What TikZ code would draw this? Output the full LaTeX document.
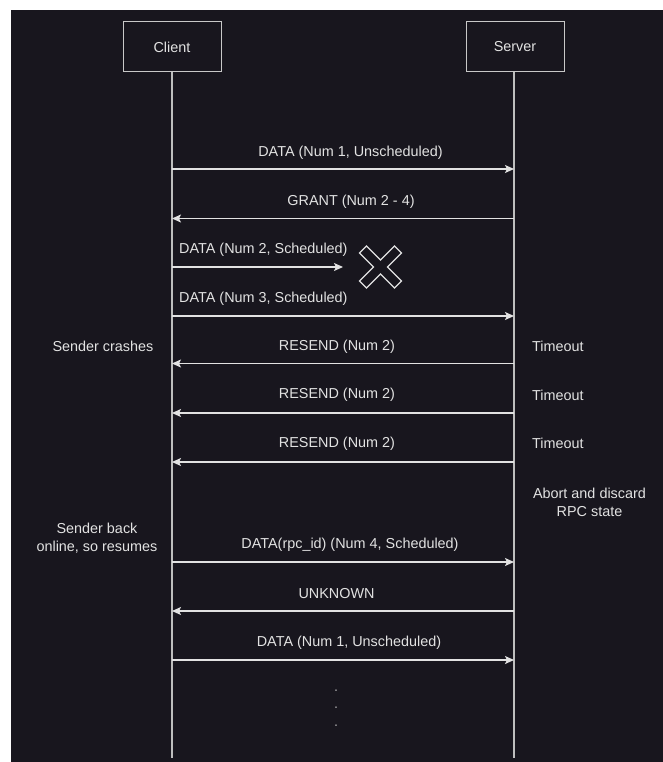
\documentclass[tikz,border=0pt]{standalone}
\usepackage{fontspec}
\setmainfont{Liberation Sans}
\usetikzlibrary{arrows.meta}
\definecolor{bg}{RGB}{24,22,30}
\definecolor{fg}{RGB}{226,226,226}
\definecolor{ln}{RGB}{200,200,200}
\definecolor{life}{RGB}{190,190,190}
\tikzset{
  actor/.style={draw=ln, fill=bg, line width=1pt, minimum width=98pt, minimum height=50pt, text=fg, inner sep=0pt},
  lifeline/.style={draw=life, line width=1.2pt},
  msg/.style={draw=fg, line width=1.3pt, -{Stealth[length=9pt,width=8pt,inset=2pt]}},
  lbl/.style={text=fg, inner sep=0pt},
  crossmark/.style={draw=fg, fill=bg, line width=1.2pt, line join=miter}
}
\begin{document}
\begin{tikzpicture}[x=1pt,y=-1pt,font=\fontsize{14.4}{18}\selectfont]
\useasboundingbox (0,0) rectangle (663,762);
\fill[white] (0,0) rectangle (663,762);
\fill[bg] (11,10) rectangle (663,762);

% actors
\node[actor] (client) at (172,47) {Client};
\node[actor] (server) at (515,47) {Server};
\coordinate (cend) at (172,758);
\coordinate (send) at (514,758);
\draw[lifeline] (client.south) -- (cend);
\draw[lifeline] (server.south -| send) -- (send);

% message end points
\coordinate (c1) at (172,169);   \coordinate (s1) at (514,169);
\coordinate (c2) at (172,218.5); \coordinate (s2) at (514,218.5);
\coordinate (c3) at (172,267);   \coordinate (lost) at (343,267);
\coordinate (c4) at (172,316);   \coordinate (s4) at (514,316);
\coordinate (c5) at (172,363.5); \coordinate (s5) at (514,363.5);
\coordinate (c6) at (172,413);   \coordinate (s6) at (514,413);
\coordinate (c7) at (172,462);   \coordinate (s7) at (514,462);
\coordinate (c8) at (172,562);   \coordinate (s8) at (514,562);
\coordinate (c9) at (172,611);   \coordinate (s9) at (514,611);
\coordinate (c10) at (172,660);  \coordinate (s10) at (514,660);

% messages
\draw[msg] (c1) -- (s1);
\draw[msg] (s2) -- (c2);
\draw[msg] (c3) -- (lost);
\draw[msg] (c4) -- (s4);
\draw[msg] (s5) -- (c5);
\draw[msg] (s6) -- (c6);
\draw[msg] (s7) -- (c7);
\draw[msg] (c8) -- (s8);
\draw[msg] (s9) -- (c9);
\draw[msg] (c10) -- (s10);

% lost-message cross
\begin{scope}[shift={(380.5,267)}, rotate=45]
\draw[crossmark] (5,-24.7) -- (5,-5) -- (24.7,-5) -- (24.7,5) -- (5,5) -- (5,24.7)
  -- (-5,24.7) -- (-5,5) -- (-24.7,5) -- (-24.7,-5) -- (-5,-5) -- (-5,-24.7) -- cycle;
\end{scope}

% message labels
\node[lbl] (l1) at (350.5,152.5) {DATA (Num 1, Unscheduled)};
\node[lbl] (l2) at (351,201.5) {GRANT (Num 2 - 4)};
\node[lbl, anchor=west] (l3) at (179,249.5) {DATA (Num 2, Scheduled)};
\node[lbl, anchor=west] (l4) at (179,298.5) {DATA (Num 3, Scheduled)};
\node[lbl] (l5) at (337,346.5) {RESEND (Num 2)};
\node[lbl] (l6) at (337,395) {RESEND (Num 2)};
\node[lbl] (l7) at (337,443.5) {RESEND (Num 2)};
\node[lbl] (l8) at (350,544.5) {DATA(rpc\_id) (Num 4, Scheduled)};
\node[lbl] (l9) at (336.5,593.5) {UNKNOWN};
\node[lbl] (l10) at (349,642.5) {DATA (Num 1, Unscheduled)};

% side notes
\node[lbl] (crash) at (103,346.5) {Sender crashes};
\node[lbl, anchor=west] (t1) at (532,346.5) {Timeout};
\node[lbl, anchor=west] (t2) at (532,395) {Timeout};
\node[lbl, anchor=west] (t3) at (532,443.5) {Timeout};
\node[lbl, align=center] (abort) at (589.5,502) {Abort and discard\\RPC state};
\node[lbl, align=center] (back) at (97,538) {Sender back\\online, so resumes};

% continuation dots
\node[lbl, anchor=base, text=fg!70!bg] (d1) at (336,691) {.};
\node[lbl, anchor=base, text=fg!70!bg] (d2) at (336,708) {.};
\node[lbl, anchor=base, text=fg!70!bg] (d3) at (336,726) {.};
\end{tikzpicture}
\end{document}
